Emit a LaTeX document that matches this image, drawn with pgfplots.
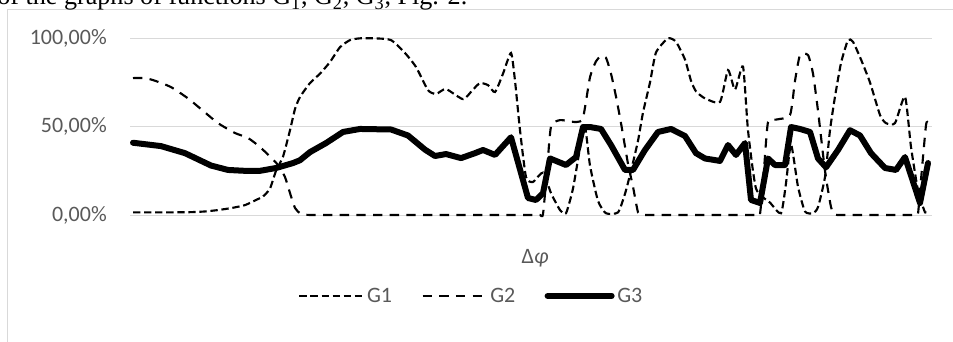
\documentclass[border=0pt]{standalone}
\usepackage{pgfplots}
\usepackage{pgfplotstable}
\pgfplotsset{compat=1.18}
\usepackage{fontspec}
\setmainfont{Carlito}
\newfontfamily\capfont{Liberation Serif}
\definecolor{txtgray}{HTML}{595959}
\definecolor{gridgray}{HTML}{D9D9D9}

\pgfplotstableread{
x y
133 1.5
150 1.5
170 1.5
190 1.6
205 2.0
218 2.8
232 4.0
245 5.6
256 8.5
263 10.5
270 15
276 25
283 33
290 48
295 60
300 66.8
310 74.7
320 80
330 86.6
340 95
350 99
360 100
375 100
391 99
405 91.7
416 83.8
428 70.7
436 68.5
446 71.3
463 65.6
473 71
480 74.7
488 73.5
495 69.6
503 80
511 91.7
515 76
520 48
526 21.5
533 18.7
543 24
551 12.4
560 2.8
566 1
573 15
580 38
585 50
590 28
598 8
606 1
618 1.5
625 12
631 25
638 42
643 58
650 75
656 92
668 100
676 98
685 88
691 76
696 70
705 66
720 64
728 82
735 71
743 84
748 48
756 15
770 7
781 1
786 18
791 40
798 16
805 2
813 1
818 4.5
825 21.5
830 48
835 67
841 86
848 99
853 98
861 88
870 75
880 56.6
886 52
895 52
905 67
911 38.5
918 14
925 1.5
928 2
}\gone

\pgfplotstableread{
x y
133 77.5
145 77.5
155 76
171 72.4
188 66
203 59
218 52
235 46.4
248 43.6
260 38.5
270 33
278 28.3
285 21.5
290 12.4
295 4
300 1
305 0.2
310 0
320 0
400 0
500 0
535 0
540 0
543 0.5
547 25
551 50
560 53.7
576 52.6
583 55
590 78
596 87
601 90
606 89
611 80
616 67
621 52
628 29
633 16
638 1.5
642 0.2
645 0
655 0
700 0
750 0
756 0
760 0.5
764 26
768 52.6
776 54
790 56.6
795 76
800 90.5
808 90.5
813 80
818 59
825 25
831 4.5
835 0.3
840 0
850 0
880 0
910 0
915 0
918 0.8
921 20
926 51
928 52
}\gtwo

\pgfplotstableread{
x y
133 40.9
161 39
185 35
211 28
228 25.5
245 25
260 25
276 26.6
293 29.4
300 31
310 35.6
326 40.7
343 47
360 48.7
391 48.4
408 45
425 37
435 33.4
446 34.5
461 32.2
475 35
483 36.8
495 34
511 44
528 9.6
536 8.5
543 12.4
550 32
566 28.3
576 32.8
583 49.8
590 49.8
601 48.7
611 39.6
625 25.5
633 25.5
645 36.8
658 47
671 48.7
685 44.7
696 35
705 32
720 30.6
728 39.6
736 34
745 40.7
751 8.5
760 6.8
768 32
775 28.3
785 28.3
791 49.8
800 48.7
810 47
818 32
826 27
838 36.8
850 48
860 45
871 35
885 26.6
896 25.5
905 32.8
920 6.8
928 29.4
}\gthree

\begin{document}
\begin{tikzpicture}
\path[use as bounding box] (0pt,0pt) rectangle (714.75pt,-256.5pt);
\begin{scope}[x=0.75pt,y=-0.75pt]
\draw[gridgray, line width=0.75pt] (7,10) rectangle (990,400);
\node[anchor=base west, inner sep=0pt, font=\capfont\fontsize{19.6pt}{23pt}\selectfont] at (-3,5) {of the graphs of functions G\textsubscript{1}, G\textsubscript{2}, G\textsubscript{3}, Fig. 2.};
\end{scope}
\begin{axis}[
  at={(97.5pt,-161.25pt)}, anchor=south west,
  scale only axis, width=601.5pt, height=132.5pt,
  xmin=130, xmax=932, ymin=0, ymax=100,
  clip=false,
  axis line style={draw=none},
  xtick=\empty, ytick={0,50,100},
  yticklabels={{0,00\%},{50,00\%},{100,00\%}},
  ymajorgrids, major grid style={gridgray, line width=0.75pt},
  major tick length=0pt,
  yticklabel style={anchor=east, inner sep=0pt, xshift=-17.25pt, font=\fontsize{16.5pt}{19pt}\selectfont, text=txtgray},
  xlabel={Δ\textit{φ}},
  xlabel style={at={(axis description cs:0.505,-0.243)}, anchor=center, font=\fontsize{16.5pt}{19pt}\selectfont, text=txtgray},
  legend columns=3,
  legend style={at={(axis description cs:0.426,-0.458)}, anchor=center, draw=none, fill=none, font=\fontsize{16.5pt}{19pt}\selectfont, text=txtgray, /tikz/every even column/.append style={column sep=20pt}},
  legend image code/.code={\draw[#1] (0pt,0pt) -- (48pt,0pt);},
]
\addplot[black, line width=1.6pt, dash pattern=on 5.5pt off 2.8pt, smooth, tension=0.35] table {\gone};
\addlegendentry{G1}
\addplot[black, line width=1.6pt, dash pattern=on 7pt off 5.5pt, smooth, tension=0.35] table {\gtwo};
\addlegendentry{G2}
\addplot[black, line width=4.5pt, line join=round, line cap=round] table {\gthree};
\addlegendentry{G3}
\end{axis}
\end{tikzpicture}
\end{document}
